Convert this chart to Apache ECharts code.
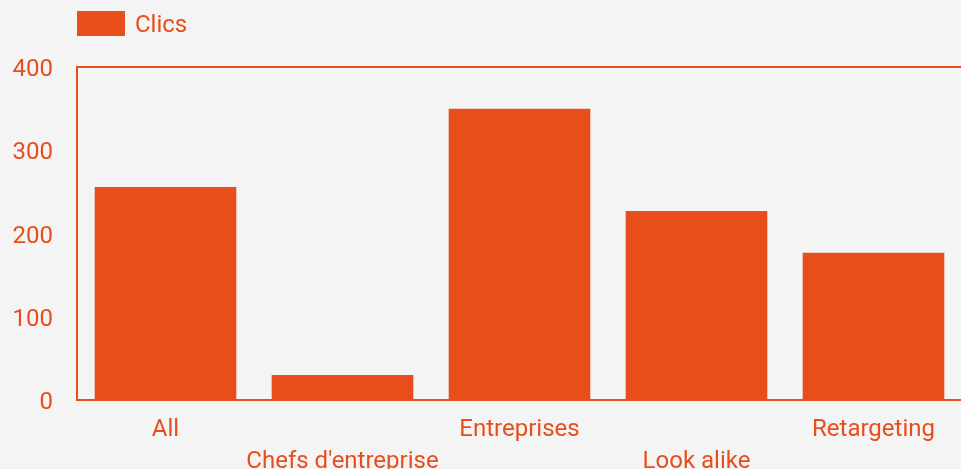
<!DOCTYPE html>
<html>
<head>
<meta charset="utf-8">
<script src="https://cdn.jsdelivr.net/npm/echarts@6/dist/echarts.min.js"></script>
<style>
  html, body { margin: 0; padding: 0; background: #f4f4f4; }
  #chart { width: 961px; height: 469px; }
</style>
</head>
<body>
<div id="chart"></div>
<script>
const categories = ['All', "Chefs d'entreprise", 'Entreprises', 'Look alike', 'Retargeting'];
const clics = [256, 30, 350, 227, 177];
const seriesName = 'Clics';
const yTicks = { min: 0, max: 400, interval: 100 };

const accent = '#e84e1b';
const font = 'Roboto';

const chart = echarts.init(document.getElementById('chart'), null, { renderer: 'canvas' });
chart.setOption({
  backgroundColor: '#f4f4f4',
  animation: false,
  legend: {
    left: 77,
    top: 11,
    padding: 0,
    itemWidth: 48,
    itemHeight: 25,
    itemGap: 10,
    formatter: '{c|{name}}',
    textStyle: {
      color: accent, fontSize: 24, fontFamily: font,
      rich: { c: { color: accent, fontSize: 24, fontFamily: font, padding: [4, 0, 0, 5] } }
    },
    data: [{ name: seriesName, icon: 'rect' }]
  },
  grid: {
    left: 77, right: -1, top: 67, bottom: 69,
    outerBoundsMode: 'none',
    containLabel: false,
    show: true,
    borderColor: accent,
    borderWidth: 2,
    backgroundColor: 'transparent'
  },
  xAxis: {
    type: 'category',
    data: categories,
    axisLine: { show: true, lineStyle: { color: accent, width: 2 } },
    axisTick: { show: false },
    axisLabel: {
      interval: 0,
      margin: 14,
      color: accent,
      fontSize: 24,
      fontFamily: font,
      lineHeight: 32,
      hideOverlap: false,
      formatter: (v, i) => (i % 2 ? '\n' + v : v)
    }
  },
  yAxis: {
    type: 'value',
    min: yTicks.min,
    max: yTicks.max,
    interval: yTicks.interval,
    axisLine: { show: true, lineStyle: { color: accent, width: 2 } },
    axisTick: { show: false },
    splitLine: { show: false },
    axisLabel: {
      margin: 24,
      color: accent,
      fontSize: 24,
      fontFamily: font,
      formatter: '{v|{value}}',
      rich: { v: { color: accent, fontSize: 24, fontFamily: font, padding: [6, 0, 0, 0] } }
    }
  },
  series: [{
    name: seriesName,
    type: 'bar',
    data: clics,
    barCategoryGap: '20%',
    itemStyle: { color: accent }
  }]
});
</script>
</body>
</html>
